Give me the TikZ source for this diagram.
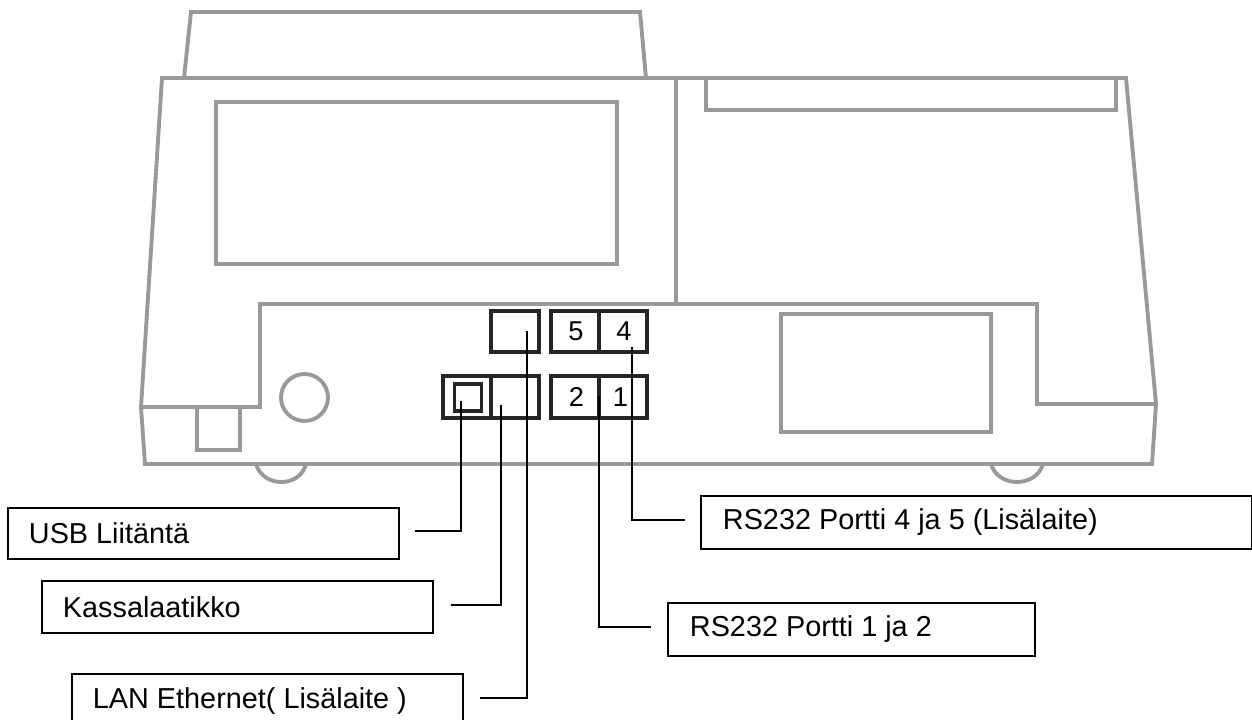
\documentclass[tikz,border=0pt]{standalone}
\usepackage{fontspec}
\setmainfont{Liberation Sans}
\newlength{\pxu}
\setlength{\pxu}{0.567pt}
\newcommand{\tagtext}[3]{\makebox[#1\pxu][l]{\hspace*{#2\pxu}\raisebox{-2\pxu}{#3}}}
\newcommand{\portnum}[2]{\hspace*{#1\pxu}\raisebox{-3\pxu}{#2}}
\tikzset{
  body/.style={draw=black!40,line width=2.2pt,line join=miter},
  port/.style={draw=black!85,line width=2.2pt,minimum width=48\pxu,minimum height=42\pxu,inner sep=0pt,font=\fontsize{15.5}{18}\selectfont},
  tag/.style={draw=black,line width=1.2pt,anchor=north west,inner sep=0pt,font=\fontsize{16.4}{18}\selectfont},
  lead/.style={line width=1.4pt,black}
}
\begin{document}
\begin{tikzpicture}[x=0.02cm,y=-0.02cm]
\useasboundingbox (0,0) rectangle (1252,720);
% printer outline
\draw[body] (191,12)--(640,12)--(646,78)--(184,78)--cycle;
\draw[body] (162,78)--(1126,78)--(1156,404)--(1152,464)--(145,464)--(141,407)--cycle;
\draw[body] (141,407)--(260,407)--(260,304)--(1037,304)--(1037,404)--(1156,404);
\draw[body] (676,78)--(676,304);
\draw[body] (706,78)--(706,110)--(1116,110)--(1116,78);
\draw[body] (216,102)--(617,102)--(617,264)--(216,264)--cycle;
\draw[body] (781,314)--(991,314)--(991,432)--(781,432)--cycle;
\draw[body] (197,407)--(197,450)--(240,450)--(240,407);
\draw[body] (304.5,397.5) circle (23.5);
\draw[body] (256,464) .. controls (263,488) and (300,488) .. (306,464);
\draw[body] (991,464) .. controls (998,488) and (1036,488) .. (1043,464);
% ports
\node[port] (lan) at (515,331.5) {};
\node[port] (p5) at (575,331.5) {\portnum{2}{5}};
\node[port] (p4) at (623,331.5) {\portnum{2}{4}};
\node[port] (usb) at (467,397) {};
\node[port] (drawer) at (515,397) {};
\node[port] (p2) at (575,397) {\portnum{3}{2}};
\node[port] (p1) at (623,397) {\portnum{-5}{1}};
\node[draw=black!85,line width=2.2pt,minimum width=27\pxu,minimum height=27\pxu,inner sep=0pt] (usbin) at (468,397.5) {};
% tags
\node[tag,minimum width=392\pxu,minimum height=51\pxu] (tagusb) at (7,507) {\tagtext{392}{21}{USB Liitäntä}};
\node[tag,minimum width=392\pxu,minimum height=52\pxu] (tagdrawer) at (41,580) {\tagtext{392}{21}{Kassalaatikko}};
\node[tag,minimum width=392\pxu,minimum height=54\pxu] (taglan) at (71,673) {\tagtext{392}{21}{LAN Ethernet( Lisälaite )}};
\node[tag,minimum width=553\pxu,minimum height=53\pxu] (tagfour) at (700,495) {\tagtext{553}{22}{RS232 Portti 4 ja 5 (Lisälaite)}};
\node[tag,minimum width=368\pxu,minimum height=53\pxu] (tagone) at (667,602) {\tagtext{368}{22}{RS232 Portti 1 ja 2}};
% leads
\coordinate (endusb) at (461,401);
\coordinate (enddrawer) at (501,405);
\coordinate (endlan) at (527,331);
\coordinate (endfour) at (632,347);
\coordinate (endone) at (599,396);
\draw[lead,shorten <=15\pxu] ([yshift=2.5\pxu]tagusb.east) -| (endusb);
\draw[lead,shorten <=17\pxu] ([yshift=2\pxu]tagdrawer.east) -| (enddrawer);
\draw[lead,shorten <=16\pxu] ([yshift=3\pxu]taglan.east) -| (endlan);
\draw[lead,shorten <=15\pxu] ([yshift=2.5\pxu]tagfour.west) -| (endfour);
\draw[lead,shorten <=16\pxu] ([yshift=2.5\pxu]tagone.west) -| (endone);
\end{tikzpicture}
\end{document}
